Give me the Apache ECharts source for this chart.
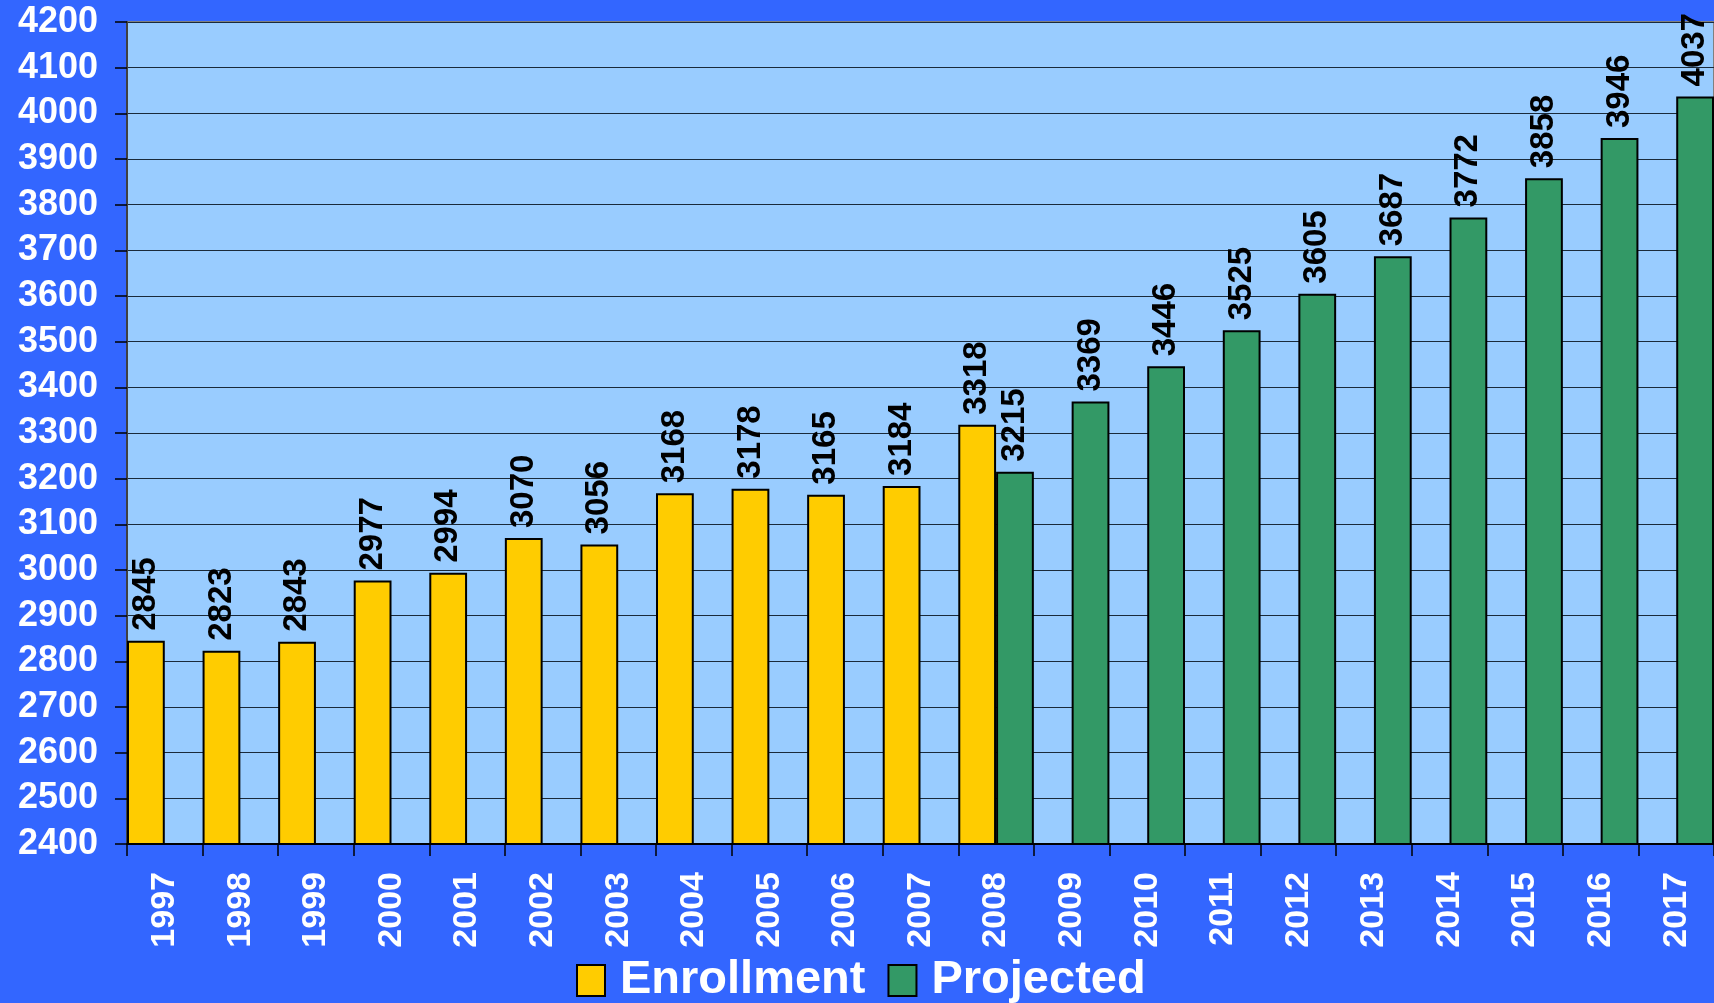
<!DOCTYPE html>
<html>
<head>
<meta charset="utf-8">
<script src="https://cdn.jsdelivr.net/npm/echarts@6/dist/echarts.min.js"></script>
<style>
  html, body { margin: 0; padding: 0; background: #3366ff; }
  #chart { width: 1714px; height: 1003px; }
</style>
</head>
<body>
<div id="chart"></div>
<script>
// ===== Enrollment chart =====

const years = ['1997', '1998', '1999', '2000', '2001', '2002', '2003', '2004', '2005', '2006', '2007',
  '2008', '2009', '2010', '2011', '2012', '2013', '2014', '2015', '2016', '2017'];
const enrollment = [2845, 2823, 2843, 2977, 2994, 3070, 3056, 3168, 3178, 3165, 3184,
  3318, null, null, null, null, null, null, null, null, null];
const projected = [null, null, null, null, null, null, null, null, null, null, null,
  3215, 3369, 3446, 3525, 3605, 3687, 3772, 3858, 3946, 4037];

const FONT = '"Liberation Sans", Arial, sans-serif';

function initChart() {
  const chartDom = document.getElementById('chart');
  const myChart = echarts.init(chartDom);

  const barLabel = {
    show: true,
    position: 'top',
    rotate: 90,
    align: 'left',
    verticalAlign: 'middle',
    distance: 10,
    color: '#000',
    fontFamily: FONT,
    fontWeight: 'bold',
    fontSize: 33
  };

  const option = {
    backgroundColor: '#3366ff',
    animation: false,
    textStyle: { fontFamily: FONT },
    grid: {
      left: 127, top: 22, right: 0, bottom: 159,
      containLabel: false,
      outerBoundsMode: 'none',
      show: true,
      backgroundColor: '#99ccff',
      borderColor: '#808080',
      borderWidth: 2
    },
    legend: {
      left: 576,
      top: 957,
      padding: 0,
      icon: 'rect',
      itemWidth: 28,
      itemHeight: 31,
      itemGap: 22,
      textStyle: { color: '#fff', fontSize: 47, fontWeight: 'bold', fontFamily: FONT, padding: [0, 0, 0, 10] },
      data: ['Enrollment', 'Projected']
    },
    xAxis: {
      type: 'category',
      data: years,
      axisLine: { lineStyle: { color: '#000', width: 2 } },
      axisTick: { show: true, length: 12, lineStyle: { color: '#000', width: 1.5 } },
      axisLabel: {
        rotate: 90,
        margin: 28,
        color: '#fff',
        fontFamily: FONT,
        fontWeight: 'bold',
        fontSize: 34
      },
      splitLine: { show: false }
    },
    yAxis: {
      type: 'value',
      min: 2400,
      max: 4200,
      interval: 100,
      axisLine: { show: true, lineStyle: { color: '#404040', width: 2 } },
      axisTick: { show: true, length: 12, lineStyle: { color: '#000', width: 1.5 } },
      axisLabel: {
        margin: 29,
        color: '#fff',
        fontFamily: FONT,
        fontWeight: 'bold',
        fontSize: 36,
        formatter: v => String(v)
      },
      splitLine: { lineStyle: { color: '#1a2a3a', width: 1.2 } }
    },
    series: [
      {
        name: 'Enrollment',
        type: 'bar',
        data: enrollment,
        barGap: '0%',
        barCategoryGap: '0%',
        itemStyle: { color: '#ffcc00', borderColor: '#000', borderWidth: 2 },
        label: barLabel
      },
      {
        name: 'Projected',
        type: 'bar',
        data: projected,
        barGap: '0%',
        barCategoryGap: '0%',
        itemStyle: { color: '#339966', borderColor: '#000', borderWidth: 2 },
        label: barLabel
      }
    ]
  };

  myChart.setOption(option);
  window.addEventListener('resize', () => myChart.resize());
}

initChart();
</script>
</body>
</html>
